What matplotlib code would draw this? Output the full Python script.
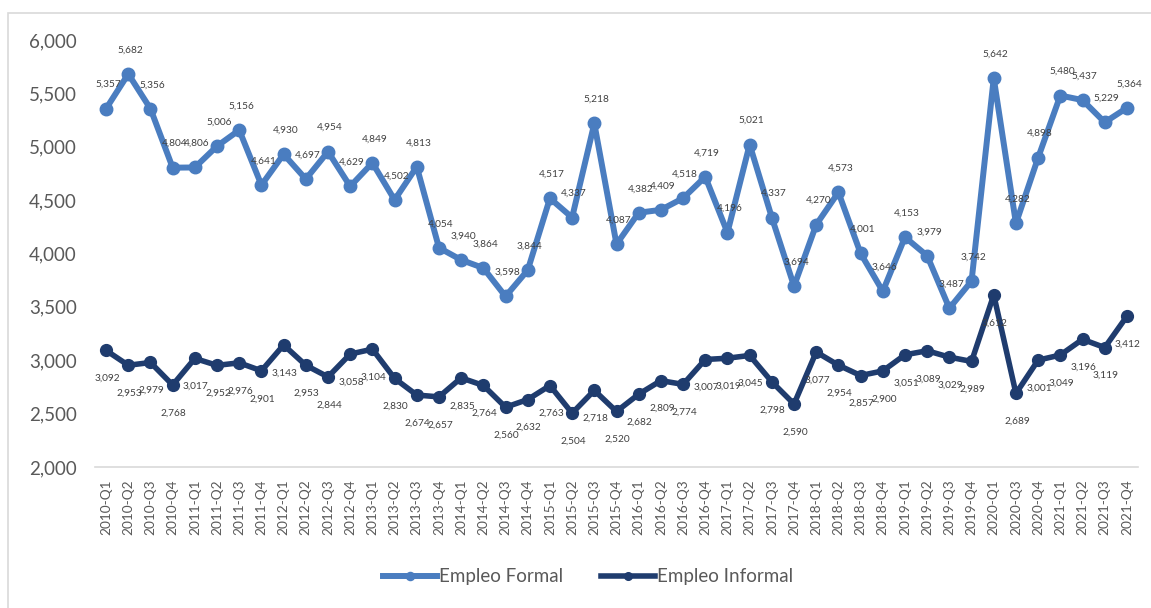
import matplotlib.pyplot as plt
from matplotlib.patches import Rectangle

# Datos (miles de personas)
quarters = ['2010-Q1', '2010-Q2', '2010-Q3', '2010-Q4',
            '2011-Q1', '2011-Q2', '2011-Q3', '2011-Q4',
            '2012-Q1', '2012-Q2', '2012-Q3', '2012-Q4',
            '2013-Q1', '2013-Q2', '2013-Q3', '2013-Q4',
            '2014-Q1', '2014-Q2', '2014-Q3', '2014-Q4',
            '2015-Q1', '2015-Q2', '2015-Q3', '2015-Q4',
            '2016-Q1', '2016-Q2', '2016-Q3', '2016-Q4',
            '2017-Q1', '2017-Q2', '2017-Q3', '2017-Q4',
            '2018-Q1', '2018-Q2', '2018-Q3', '2018-Q4',
            '2019-Q1', '2019-Q2', '2019-Q3', '2019-Q4',
            '2020-Q1', '2020-Q3', '2020-Q4',
            '2021-Q1', '2021-Q2', '2021-Q3', '2021-Q4']

empleo_formal = [5357, 5682, 5356, 4804,
                 4806, 5006, 5156, 4641,
                 4930, 4697, 4954, 4629,
                 4849, 4502, 4813, 4054,
                 3940, 3864, 3598, 3844,
                 4517, 4337, 5218, 4087,
                 4382, 4409, 4518, 4719,
                 4196, 5021, 4337, 3694,
                 4270, 4573, 4001, 3646,
                 4153, 3979, 3487, 3742,
                 5642, 4282, 4898,
                 5480, 5437, 5229, 5364]

empleo_informal = [3092, 2953, 2979, 2768,
                   3017, 2952, 2976, 2901,
                   3143, 2953, 2844, 3058,
                   3104, 2830, 2674, 2657,
                   2835, 2764, 2560, 2632,
                   2763, 2504, 2718, 2520,
                   2682, 2809, 2774, 3007,
                   3019, 3045, 2798, 2590,
                   3077, 2954, 2857, 2900,
                   3051, 3089, 3029, 2989,
                   3612, 2689, 3001,
                   3049, 3196, 3119, 3412]

y_ticks = [2000, 2500, 3000, 3500, 4000, 4500, 5000, 5500, 6000]

plt.rcParams['font.family'] = ['Lato', 'DejaVu Sans']

color_formal = '#4a7dc0'
color_informal = '#1f3c6e'
gris = '#595959'

fig = plt.figure(figsize=(11.51, 6.08), dpi=100)
ax = fig.add_axes([95 / 1151, 141 / 608, 1043 / 1151, 427 / 608])

x = list(range(len(quarters)))
ax.plot(x, empleo_formal, color=color_formal, lw=4.3, marker='o', ms=9,
        label='Empleo Formal', zorder=3)
ax.plot(x, empleo_informal, color=color_informal, lw=4.0, marker='o', ms=8.5,
        label='Empleo Informal', zorder=3)

# etiquetas de datos
for xi, v in zip(x, empleo_formal):
    ax.annotate(f'{v:,}', (xi, v), xytext=(2, 24), textcoords='offset pixels',
                ha='center', va='center', fontsize=7.3, color='#404040', zorder=4)
for xi, v in zip(x, empleo_informal):
    ax.annotate(f'{v:,}', (xi, v), xytext=(1, -28), textcoords='offset pixels',
                ha='center', va='center', fontsize=7.3, color='#404040', zorder=4)

ax.set_xlim(-0.5, len(quarters) - 0.5)
ax.set_ylim(2000, 6000)
ax.set_xticks(x)
ax.set_xticklabels(quarters, rotation=90, fontsize=9.8, color=gris)
ax.set_yticks(y_ticks)
ax.set_yticklabels([f'{t:,}' for t in y_ticks], fontsize=13.5, color=gris)
ax.tick_params(axis='x', length=0, pad=9)
ax.tick_params(axis='y', length=0, pad=13)

for s in ['top', 'right', 'left']:
    ax.spines[s].set_visible(False)
ax.spines['bottom'].set_color('#d9d9d9')
ax.spines['bottom'].set_linewidth(1.2)

leg = fig.legend(loc='center', bbox_to_anchor=(0.511, 0.051), ncol=2, frameon=False,
                 fontsize=13.5, handlelength=2.9, handletextpad=0.1, columnspacing=2.0,
                 markerscale=0.65)
for t in leg.get_texts():
    t.set_color(gris)

# marco del gráfico
fig.patches.append(Rectangle((8 / 1151, -0.1), 1.2, 1.1 - 13 / 608, transform=fig.transFigure,
                             fill=False, edgecolor='#d9d9d9', lw=1.2))

fig.savefig('out.png', dpi=100)
